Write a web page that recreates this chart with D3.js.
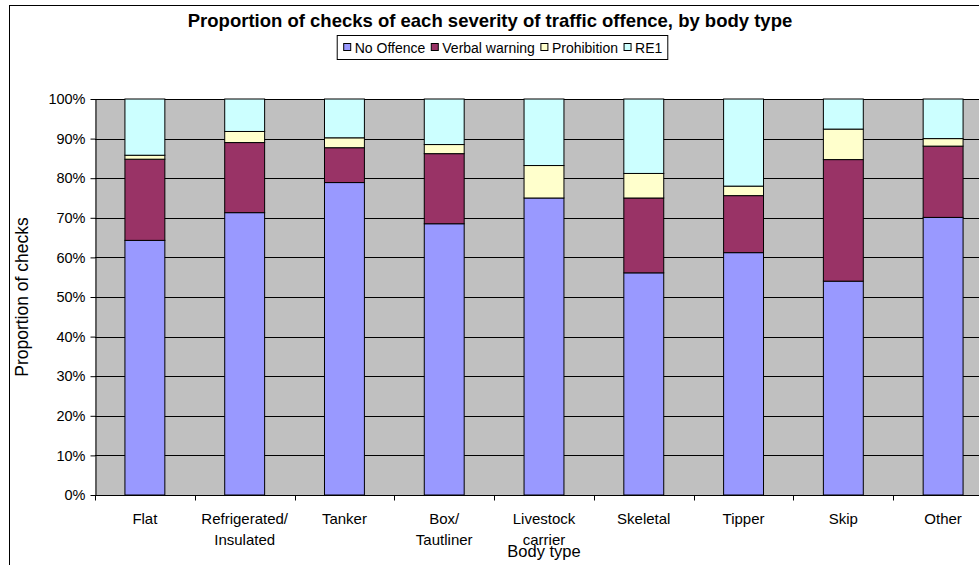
<!DOCTYPE html>
<html>
<head>
<meta charset="utf-8">
<script src="https://cdn.jsdelivr.net/npm/d3@7"></script>
<style>
  html, body { margin: 0; padding: 0; background: #fff; overflow: hidden; }
  svg { display: block; font-family: "Liberation Sans", Arial, sans-serif; }
</style>
</head>
<body>
<svg id="chart" width="979" height="565"></svg>
<script>
// Body types (category axis), line breaks marked with "\n"
const bodyTypes = ["Flat", "Refrigerated/\nInsulated", "Tanker", "Box/\nTautliner",
  "Livestock\ncarrier", "Skeletal", "Tipper", "Skip", "Other"];

// Offence severity series, share of checks per body type
const seriesNames = ["No Offence", "Verbal warning", "Prohibition", "RE1"];
const noOffence     = [0.643, 0.713, 0.789, 0.685, 0.750, 0.561, 0.612, 0.540, 0.701];
const verbalWarning = [0.205, 0.177, 0.088, 0.177, 0.000, 0.189, 0.144, 0.307, 0.180];
const prohibition   = [0.010, 0.028, 0.025, 0.023, 0.082, 0.062, 0.024, 0.077, 0.019];
const re1           = [0.142, 0.082, 0.098, 0.115, 0.168, 0.188, 0.220, 0.076, 0.100];

// Percentage tick values on the value axis
const yTicks = [0, 0.1, 0.2, 0.3, 0.4, 0.5, 0.6, 0.7, 0.8, 0.9, 1.0];

const colors = ["#9999FF", "#993366", "#FFFFCC", "#CCFFFF"];

const rows = bodyTypes.map((b, i) => ({
  body: b,
  "No Offence": noOffence[i],
  "Verbal warning": verbalWarning[i],
  "Prohibition": prohibition[i],
  "RE1": re1[i]
}));

const svg = d3.select("#chart");

// Outer chart frame
svg.append("rect")
  .attr("x", 9.5).attr("y", 5.5)
  .attr("width", 1000).attr("height", 600)
  .attr("fill", "#fff").attr("stroke", "#000").attr("stroke-width", 1);

const plot = { left: 95, top: 99, right: 993, bottom: 495 };

const x = d3.scaleBand()
  .domain(bodyTypes)
  .range([plot.left, plot.right])
  .padding(0);

const y = d3.scaleLinear()
  .domain([0, 1])
  .range([plot.bottom, plot.top]);

// Plot background
svg.append("rect")
  .attr("x", plot.left).attr("y", plot.top)
  .attr("width", plot.right - plot.left).attr("height", plot.bottom - plot.top)
  .attr("fill", "#C0C0C0");

// Horizontal gridlines
svg.append("g")
  .selectAll("line")
  .data(yTicks.filter(t => t > 0))
  .join("line")
  .attr("x1", plot.left).attr("x2", plot.right)
  .attr("y1", d => Math.round(y(d)) + 0.5).attr("y2", d => Math.round(y(d)) + 0.5)
  .attr("stroke", "#000").attr("stroke-width", 1);

// Stacked bars
const stack = d3.stack().keys(seriesNames);
const stacked = stack(rows);
const barW = x.bandwidth() * 0.4;

svg.append("g")
  .selectAll("g")
  .data(stacked)
  .join("g")
  .attr("fill", (d, i) => colors[i])
  .selectAll("rect")
  .data(d => d.filter(s => s[1] - s[0] > 0))
  .join("rect")
  .attr("x", d => x(d.data.body) + (x.bandwidth() - barW) / 2)
  .attr("y", d => y(d[1]))
  .attr("width", barW)
  .attr("height", d => y(d[0]) - y(d[1]))
  .attr("stroke", "#000").attr("stroke-width", 1);

// Value axis
const yAxis = svg.append("g")
  .attr("transform", `translate(${plot.left + 0.5},0)`)
  .call(d3.axisLeft(y).tickValues(yTicks).tickFormat(d3.format(".0%"))
    .tickSize(5).tickSizeOuter(0).tickPadding(5));
yAxis.select(".domain").attr("stroke", "#000");
yAxis.selectAll(".tick line").attr("stroke", "#000");
yAxis.selectAll("text").attr("font-size", 14.5).attr("fill", "#000")
  .attr("font-family", "Liberation Sans, Arial, sans-serif");

// Category axis (ticks on band boundaries)
const xAxisG = svg.append("g")
  .attr("transform", `translate(0,${plot.bottom + 0.5})`);
xAxisG.append("line")
  .attr("x1", plot.left).attr("x2", plot.right)
  .attr("stroke", "#000");
xAxisG.selectAll("line.tk")
  .data(bodyTypes.concat([null]))
  .join("line")
  .attr("class", "tk")
  .attr("x1", (d, i) => Math.round(plot.left + i * x.bandwidth()) + 0.5)
  .attr("x2", (d, i) => Math.round(plot.left + i * x.bandwidth()) + 0.5)
  .attr("y1", 0).attr("y2", 5)
  .attr("stroke", "#000");

const xLabels = xAxisG.selectAll("text.lbl")
  .data(bodyTypes)
  .join("text")
  .attr("class", "lbl")
  .attr("x", d => x(d) + x.bandwidth() / 2)
  .attr("y", 28)
  .attr("text-anchor", "middle")
  .attr("font-size", 15)
  .attr("fill", "#000");
xLabels.each(function(d) {
  const parts = d.split("\n");
  d3.select(this).selectAll("tspan")
    .data(parts)
    .join("tspan")
    .attr("x", x(d) + x.bandwidth() / 2)
    .attr("dy", (p, i) => i === 0 ? 0 : 21)
    .text(p => p);
});

// Axis titles
svg.append("text")
  .attr("x", (plot.left + plot.right) / 2)
  .attr("y", 557)
  .attr("text-anchor", "middle")
  .attr("font-size", 16.5)
  .text("Body type");

svg.append("text")
  .attr("transform", `translate(28,${(plot.top + plot.bottom) / 2}) rotate(-90)`)
  .attr("text-anchor", "middle")
  .attr("font-size", 17.5)
  .text("Proportion of checks");

// Chart title
svg.append("text")
  .attr("x", 490)
  .attr("y", 27)
  .attr("text-anchor", "middle")
  .attr("font-size", 18.5)
  .attr("font-weight", "bold")
  .text("Proportion of checks of each severity of traffic offence, by body type");

// Legend
const legend = svg.append("g");
const legendItems = legend.selectAll("g")
  .data(seriesNames)
  .join("g");
legendItems.append("rect")
  .attr("width", 7).attr("height", 7)
  .attr("y", -4.5)
  .attr("fill", (d, i) => colors[i])
  .attr("stroke", "#000").attr("stroke-width", 1);
legendItems.append("text")
  .attr("x", 11)
  .attr("y", 0)
  .attr("dy", "0.35em")
  .attr("font-size", 14)
  .text(d => d);

// Lay the legend items out in a row
let lx = 0;
legendItems.each(function() {
  const g = d3.select(this);
  g.attr("transform", `translate(${lx},0)`);
  lx += 11 + g.select("text").node().getComputedTextLength() + 6;
});
const legendW = lx - 6;
const legendX = 503 - legendW / 2;
const legendY = 48;
legend.attr("transform", `translate(${legendX},${legendY})`);
legend.insert("rect", ":first-child")
  .attr("x", -6.5).attr("y", -12.5)
  .attr("width", legendW + 12).attr("height", 24)
  .attr("fill", "#fff").attr("stroke", "#000").attr("stroke-width", 1);
</script>
</body>
</html>
